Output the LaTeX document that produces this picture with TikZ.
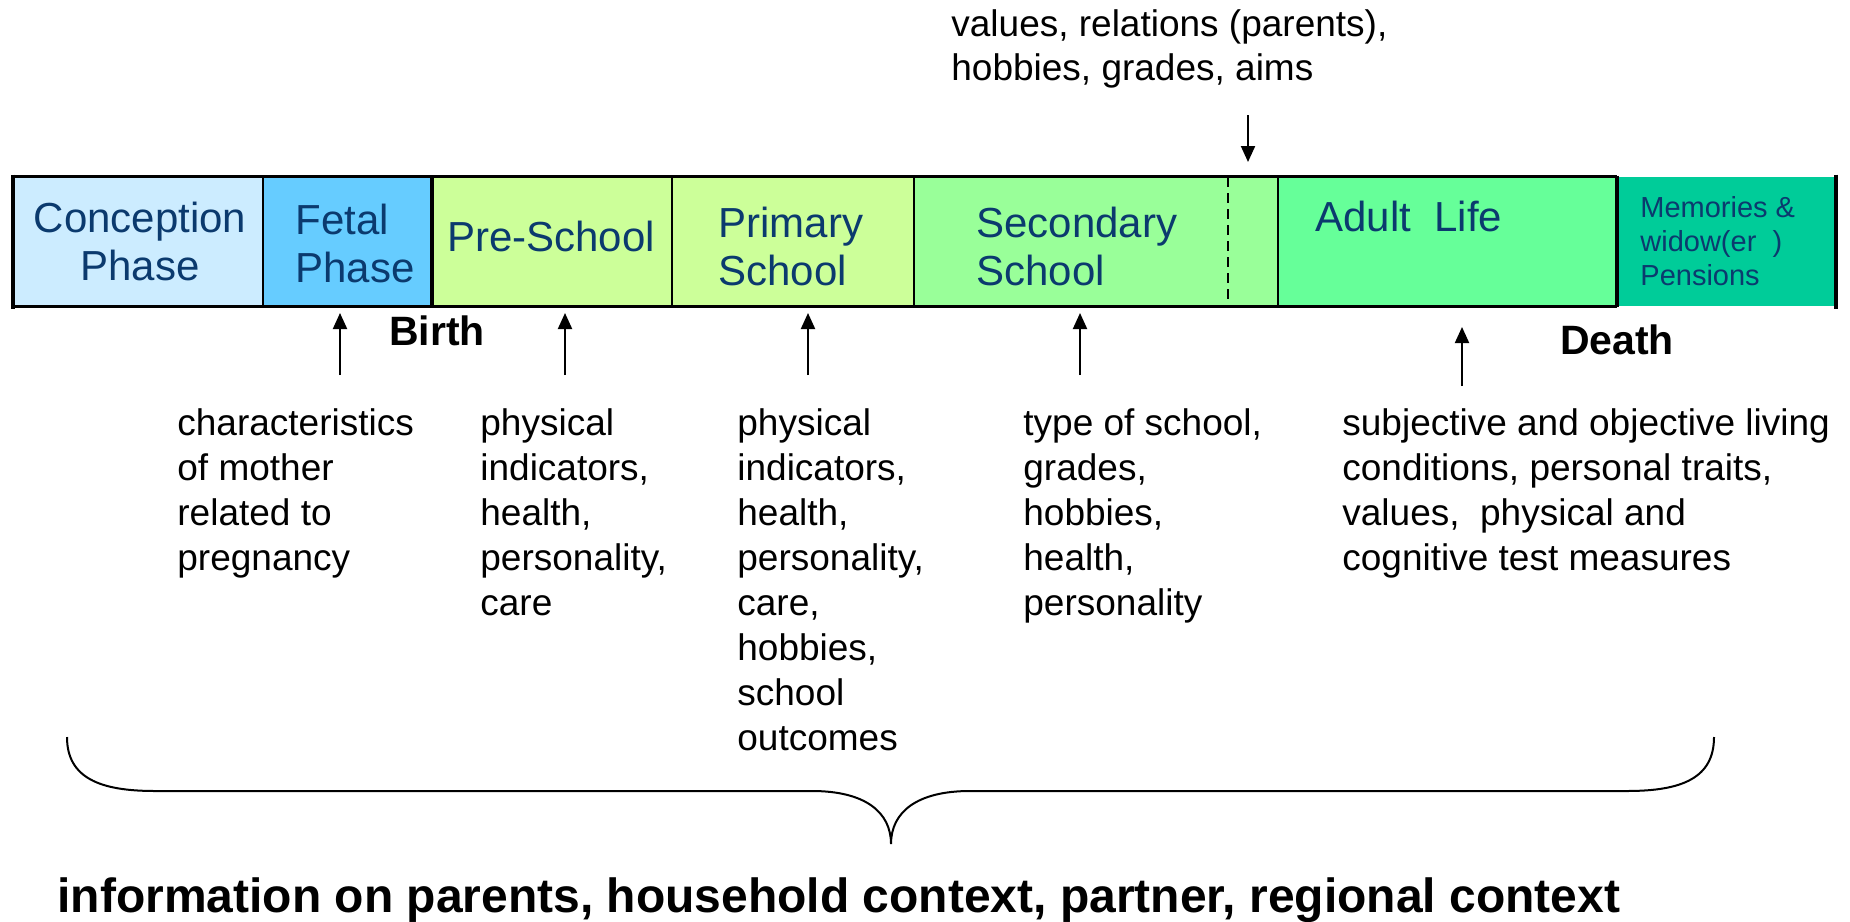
\documentclass[tikz,border=0pt]{standalone}
\usepackage{fontspec}
\setmainfont{Liberation Sans}
\usetikzlibrary{arrows.meta}
\definecolor{navy}{HTML}{0B3A6E}
\definecolor{cConc}{HTML}{CCECFF}
\definecolor{cFetal}{HTML}{66CCFF}
\definecolor{cSchool}{HTML}{CCFF99}
\definecolor{cSec}{HTML}{99FF99}
\definecolor{cAdult}{HTML}{66FF99}
\definecolor{cMem}{HTML}{00CC99}
\begin{document}
\begin{tikzpicture}[x=0.5pt,y=-0.5pt,
  phasebox/.style={draw=none,inner sep=0pt,minimum height=64.5pt},
  bartext/.style={text=navy,font=\fontsize{21}{24}\selectfont,inner sep=0pt},
  memtext/.style={text=navy,font=\fontsize{14.5}{17}\selectfont,inner sep=0pt,align=left,anchor=base west},
  body/.style={font=\fontsize{18.5}{22.5}\selectfont,inner sep=0pt,align=left,anchor=base west},
  event/.style={font=\bfseries\fontsize{20.5}{24}\selectfont,inner sep=0pt,anchor=base},
  thinsep/.style={line width=1pt},
  thicksep/.style={line width=2pt},
  border/.style={line width=1.5pt},
  arr/.style={line width=1pt,-{Triangle[width=7pt,length=8pt]}},
  bracestyle/.style={line width=1pt}
]
\useasboundingbox (0,0) rectangle (1850,921);

% phase boxes
\node[phasebox,fill=cConc,minimum width=125pt] (conc) at (138,241.5) {};
\node[phasebox,fill=cFetal,minimum width=84.5pt] (fetal) at (347.5,241.5) {};
\node[phasebox,fill=cSchool,minimum width=120pt] (pre) at (552,241.5) {};
\node[phasebox,fill=cSchool,minimum width=121pt] (prim) at (793,241.5) {};
\node[phasebox,fill=cSec,minimum width=182pt] (sec) at (1096,241.5) {};
\node[phasebox,fill=cAdult,minimum width=169.5pt] (adult) at (1447.5,241.5) {};
\node[phasebox,fill=cMem,minimum width=109.5pt] (mem) at (1726.5,241.5) {};

% borders
\draw[border] (conc.north west) -- (adult.north east);
\draw[border] (conc.south west) -- (adult.south east);
\draw[thinsep] (conc.north east) -- (conc.south east);
\draw[thinsep] (pre.north east) -- (pre.south east);
\draw[thinsep] (prim.north east) -- (prim.south east);
\draw[thinsep] (sec.north east) -- (sec.south east);
\coordinate (dashT) at (1228,177);
\coordinate (dashB) at (1228,306);
\draw[line width=1pt,dash pattern=on 5pt off 3pt] (dashT) -- (dashB);
\draw[thicksep] ([yshift=1pt]conc.north west) -- ([yshift=-1.5pt]conc.south west);
\draw[thicksep] (fetal.north east) -- (fetal.south east);
\draw[thicksep] ([yshift=0.5pt]adult.north east) -- ([yshift=-0.5pt]adult.south east);
\draw[thicksep] ([yshift=1pt]mem.north east) -- ([yshift=-1.5pt]mem.south east);

% phase labels (base anchor = baseline of last line)
\node[bartext,align=center,anchor=base] (tConc) at (140,280) {Conception\\Phase\hspace{13pt}};
\node[bartext,align=left,anchor=base west] (tFetal) at (295,282) {Fetal\\Phase};
\node[bartext,anchor=base] (tPre) at (551,251) {Pre-School};
\node[bartext,align=left,anchor=base west] (tPrim) at (718,285) {Primary\\School};
\node[bartext,align=left,anchor=base west] (tSec) at (976,285) {Secondary\\School};
\node[bartext,anchor=base west] (tAdult) at (1315,231) {Adult\ \ Life};
\node[memtext] (tMem) at (1640,285) {Memories \&\\widow(er\ \ )\\Pensions};

% top annotation
\node[body,font=\fontsize{18.5}{22}\selectfont] (topnote) at (951,80) {values, relations (parents),\\hobbies, grades, aims};
\coordinate (dTop) at (1248,115);
\coordinate (dBot) at (1248,162);
\draw[arr] (dTop) -- (dBot);

% events
\node[event] (birth) at (437,345) {Birth};
\node[event] (death) at (1617,354) {Death};

% up arrows
\coordinate (a1b) at (340,375); \coordinate (a1t) at (340,313);
\coordinate (a2b) at (565,375); \coordinate (a2t) at (565,313);
\coordinate (a3b) at (808,375); \coordinate (a3t) at (808,313);
\coordinate (a4b) at (1080,375); \coordinate (a4t) at (1080,313);
\coordinate (a5b) at (1462,386); \coordinate (a5t) at (1462,327);
\draw[arr] (a1b) -- (a1t);
\draw[arr] (a2b) -- (a2t);
\draw[arr] (a3b) -- (a3t);
\draw[arr] (a4b) -- (a4t);
\draw[arr] (a5b) -- (a5t);

% descriptions
\node[body] (d1) at (177,570) {characteristics\\of mother\\related to\\pregnancy};
\node[body] (d2) at (480,615) {physical\\indicators,\\health,\\personality,\\care};
\node[body] (d3) at (737,750) {physical\\indicators,\\health,\\personality,\\care,\\hobbies,\\school\\outcomes};
\node[body] (d4) at (1023,615) {type of school,\\grades,\\hobbies,\\health,\\personality};
\node[body] (d5) at (1342,570) {subjective and objective living\\conditions, personal traits,\\values,\ \ physical and\\cognitive test measures};

% brace
\coordinate (bL) at (67,737);
\coordinate (bTip) at (891,844);
\coordinate (bR) at (1714,737);
\draw[bracestyle] (bL) .. controls (67,778) and (100,791) .. (155,791)
  -- (812,791) .. controls (865,791) and (891,812) .. (bTip)
  .. controls (891,812) and (917,791) .. (970,791)
  -- (1627,791) .. controls (1682,791) and (1714,778) .. (bR);

% bottom text
\node[font=\bfseries\fontsize{24}{28}\selectfont,inner sep=0pt,anchor=base west] (bottom) at (57,912) {information on parents, household context, partner, regional context};
\end{tikzpicture}
\end{document}
